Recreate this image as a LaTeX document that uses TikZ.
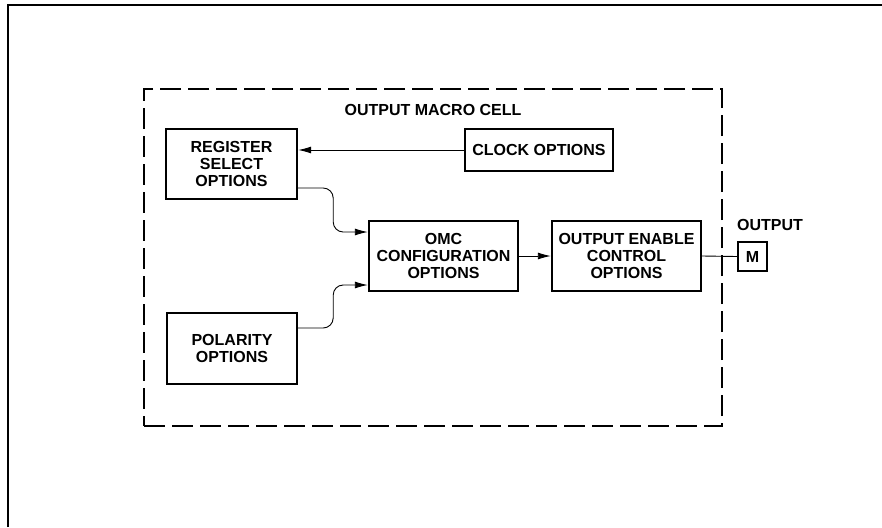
\documentclass[tikz,border=0pt]{standalone}
\usepackage{fontspec}
\setmainfont{Liberation Sans}
\usetikzlibrary{arrows.meta}

\tikzset{
    optbox/.style = {draw, line width=2.4pt, align=center, inner sep=0pt},
    conn/.style = {line width=0.9pt},
    tip/.style = {-{Latex[length=13pt,width=7pt]}},
    lbl/.style = {font=\bfseries\fontsize{16}{17.3}\selectfont}
}

\begin{document}
\begin{tikzpicture}[x=1pt, y=-1pt, every node/.style={lbl}]
            \useasboundingbox (0,0) rectangle (882,527);

            % Outer frame (only top and left edges show)
            \draw[line width=2.5pt] (8,527) -- (8,5) -- (882,5);

            % The macro cell
            \node[draw, line width=2pt, dash pattern=on 21pt off 7pt,
                  minimum width=578pt, minimum height=337pt] (cell) at (433,257.5) {};
            \node (celllbl) at (433,110) {OUTPUT MACRO CELL};

            % Option blocks
            \node[optbox, minimum width=131pt, minimum height=70pt] (reg) at (231.5,164) {REGISTER\\SELECT\\OPTIONS};
            \node[optbox, minimum width=148pt, minimum height=42pt] (clk) at (539,150) {CLOCK OPTIONS};
            \node[optbox, minimum width=149pt, minimum height=70pt] (omc) at (443.5,256) {OMC\\CONFIGURATION\\OPTIONS};
            \node[optbox, minimum width=149pt, minimum height=70pt] (oe) at (626.5,256) {OUTPUT ENABLE\\CONTROL\\OPTIONS};
            \node[optbox, minimum width=130pt, minimum height=71pt] (pol) at (232,348.5) {POLARITY\\OPTIONS};

            % Output pin
            \node[optbox, minimum width=29pt, minimum height=29pt] (pin) at (752.5,256.5) {M};
            \node (pinlbl) at (770,225) {OUTPUT};

            % Connections
            \coordinate (regout) at ([yshift=-24pt]reg.east);
            \coordinate (polout) at ([yshift=20.5pt]pol.east);
            \coordinate (omcin1) at ([yshift=24pt]omc.west);
            \coordinate (omcin2) at ([yshift=-29pt]omc.west);

            \draw[conn, tip] (clk.west) -- (clk.west -| reg.east);
            \draw[conn, tip, rounded corners=10pt] (regout) -- ++(35,0) |- (omcin1);
            \draw[conn, tip, rounded corners=10pt] (polout) -- ++(35,0) |- (omcin2);
            \draw[conn, tip] (omc.east) -- (oe.west);
            \draw[conn] (oe.east) -- (pin.west);
        \end{tikzpicture}
\end{document}
